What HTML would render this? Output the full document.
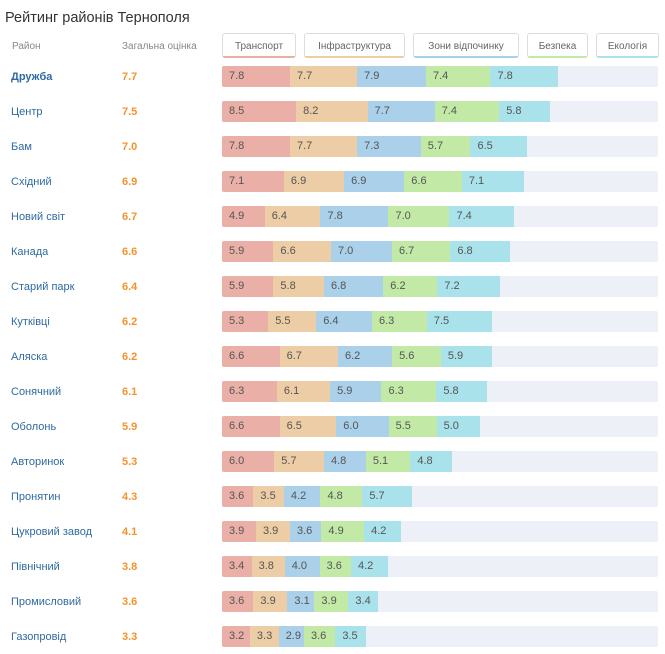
<!DOCTYPE html>
<html><head><meta charset="utf-8">
<style>
body{margin:0;width:665px;height:654px;background:#fff;font-family:"Liberation Sans","DejaVu Sans",sans-serif;position:relative;overflow:hidden}
.t{position:absolute;left:5px;top:10px;font-size:14.5px;color:#333}
.h{position:absolute;top:41px;font-size:10px;color:#888}
.btn{position:absolute;top:33px;height:25px;border:1px solid #ddd;border-radius:3px;font-size:10px;color:#666;text-align:center;line-height:25px;box-sizing:border-box}
.n{position:absolute;left:11px;font-size:11px;color:#2f6aa0}
.s{position:absolute;left:122px;font-size:11px;font-weight:bold;color:#f5922b}
.tr{position:absolute;left:222px;width:436px;height:21px;background:#eef0f8;border-radius:2px;overflow:hidden;display:flex}
.sg{height:21px;font-size:11px;color:#555;line-height:21px;padding-left:7px;box-sizing:border-box}
</style></head><body>
<div class="t">Рейтинг районів Тернополя</div>
<div class="h" style="left:12px">Район</div>
<div class="h" style="left:122px">Загальна оцінка</div>
<div class="btn" style="left:222px;width:74px;border-bottom:2px solid #eab0a8">Транспорт</div>
<div class="btn" style="left:304px;width:101px;border-bottom:2px solid #edcda5">Інфраструктура</div>
<div class="btn" style="left:413px;width:106px;border-bottom:2px solid #aad0ea">Зони відпочинку</div>
<div class="btn" style="left:527px;width:61px;border-bottom:2px solid #c2eaa6">Безпека</div>
<div class="btn" style="left:596px;width:63px;border-bottom:2px solid #a9e2ea">Екологія</div>
<div id="r"></div>
<script>
var d=[["Дружба","7.7",[7.8,7.7,7.9,7.4,7.8]],["Центр","7.5",[8.5,8.2,7.7,7.4,5.8]],["Бам","7.0",[7.8,7.7,7.3,5.7,6.5]],["Східний","6.9",[7.1,6.9,6.9,6.6,7.1]],["Новий світ","6.7",[4.9,6.4,7.8,7.0,7.4]],["Канада","6.6",[5.9,6.6,7.0,6.7,6.8]],["Старий парк","6.4",[5.9,5.8,6.8,6.2,7.2]],["Кутківці","6.2",[5.3,5.5,6.4,6.3,7.5]],["Аляска","6.2",[6.6,6.7,6.2,5.6,5.9]],["Сонячний","6.1",[6.3,6.1,5.9,6.3,5.8]],["Оболонь","5.9",[6.6,6.5,6.0,5.5,5.0]],["Авторинок","5.3",[6.0,5.7,4.8,5.1,4.8]],["Пронятин","4.3",[3.6,3.5,4.2,4.8,5.7]],["Цукровий завод","4.1",[3.9,3.9,3.6,4.9,4.2]],["Північний","3.8",[3.4,3.8,4.0,3.6,4.2]],["Промисловий","3.6",[3.6,3.9,3.1,3.9,3.4]],["Газопровід","3.3",[3.2,3.3,2.9,3.6,3.5]]];
var c=["#eab0a8","#edcda5","#aad0ea","#c2eaa6","#a9e2ea"],h="";
d.forEach(function(r,i){var y=66+i*35;
h+='<div class="n" style="top:'+(y+5)+'px;'+(i==0?'font-weight:bold;':'')+'">'+r[0]+'</div><div class="s" style="top:'+(y+5)+'px">'+r[1]+'</div><div class="tr" style="top:'+y+'px">';
r[2].forEach(function(v,j){h+='<div class="sg" style="width:'+(v*8.72).toFixed(1)+'px;background:'+c[j]+'">'+v.toFixed(1)+'</div>';});
h+='</div>';});
document.getElementById("r").innerHTML=h;
</script>
</body></html>
